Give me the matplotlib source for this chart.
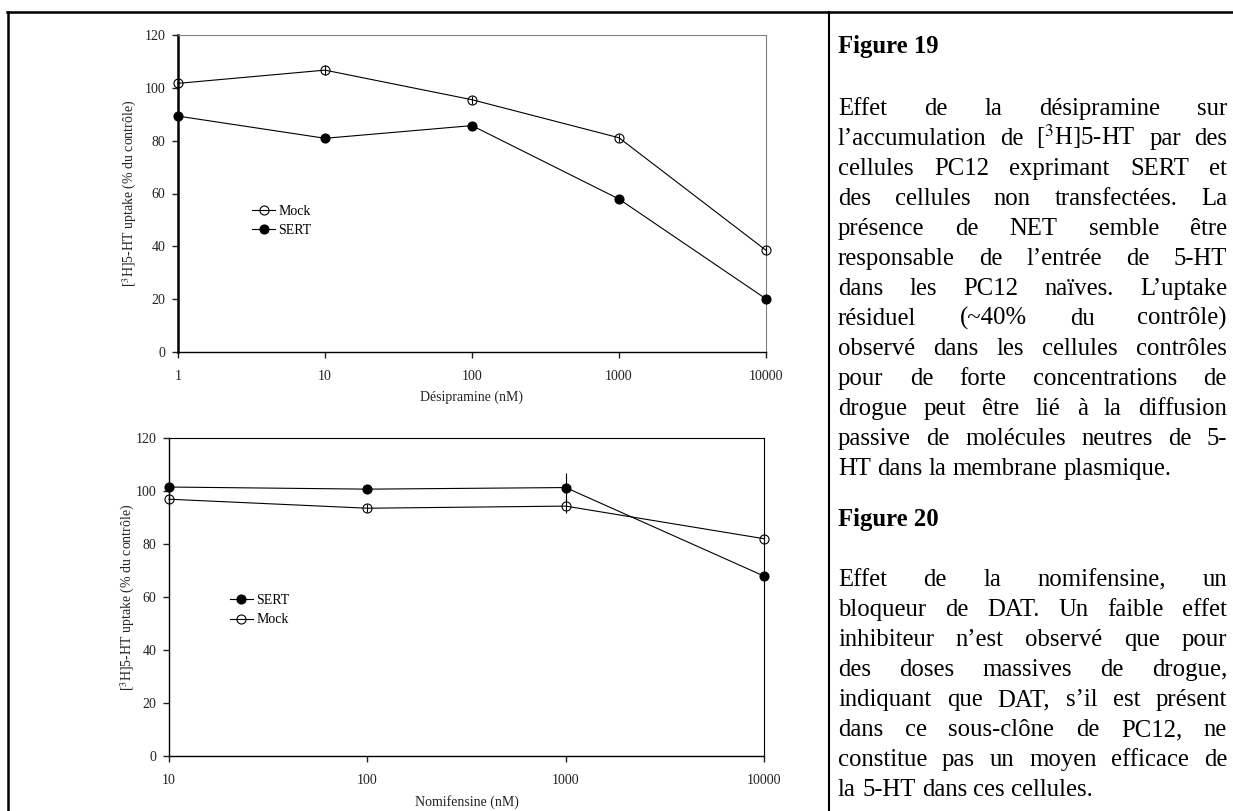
import matplotlib
matplotlib.use('Agg')
import matplotlib.pyplot as plt
from matplotlib.lines import Line2D
from matplotlib.ticker import NullLocator
from matplotlib.transforms import IdentityTransform

plt.rcParams['font.family'] = ['Liberation Serif', 'DejaVu Serif']
plt.rcParams['mathtext.fontset'] = 'stix'

# Figure 19 - désipramine
desip_nm = [1, 10, 100, 1000, 10000]
desip_mock = [101.7, 106.7, 95.5, 81.1, 38.5]
desip_mock_err = [1.5, 2.0, 1.5, 1.5, 1.5]
desip_sert = [89.3, 80.9, 85.7, 57.9, 20.1]
desip_sert_err = [1.0, 1.0, 1.0, 1.0, 1.0]

# Figure 20 - nomifensine
nomif_nm = [10, 100, 1000, 10000]
nomif_sert = [101.5, 100.7, 101.3, 67.9]
nomif_sert_err = [1.0, 1.0, 5.5, 1.0]
nomif_mock = [96.9, 93.5, 94.3, 82.0]
nomif_mock_err = [1.5, 1.5, 2.5, 1.5]

yticks = [0, 20, 40, 60, 80, 100, 120]
ylab = r'[$^{3}$H]5-HT uptake (% du contrôle)'

fig19_title = 'Figure 19'
fig19_text = [
    'Effet de la désipramine sur',
    'l’accumulation de [$^{3}$H]5-HT par des',
    'cellules PC12 exprimant SERT et',
    'des cellules non transfectées. La',
    'présence de NET semble être',
    'responsable de l’entrée de 5-HT',
    'dans les PC12 naïves. L’uptake',
    'résiduel (~40% du contrôle)',
    'observé dans les cellules contrôles',
    'pour de forte concentrations de',
    'drogue peut être lié à la diffusion',
    'passive de molécules neutres de 5-',
    'HT dans la membrane plasmique.',
]
fig20_title = 'Figure 20'
fig20_text = [
    'Effet de la nomifensine, un',
    'bloqueur de DAT. Un faible effet',
    'inhibiteur n’est observé que pour',
    'des doses massives de drogue,',
    'indiquant que DAT, s’il est présent',
    'dans ce sous-clône de PC12, ne',
    'constitue pas un moyen efficace de',
    'la 5-HT dans ces cellules.',
]

W, H = 1233, 811
fig = plt.figure(figsize=(W / 100, H / 100), dpi=100)


def add_axes_px(left, top, right, bottom):
    return fig.add_axes([left / W, 1 - bottom / H, (right - left) / W, (bottom - top) / H])


def setup(ax, xs, xlabel, xlab_y, ylab_x):
    ax.set_xscale('log')
    ax.set_xlim(xs[0], xs[-1])
    ax.set_ylim(0, 120)
    ax.set_xticks(xs)
    ax.set_xticklabels([str(v) for v in xs])
    ax.xaxis.set_minor_locator(NullLocator())
    ax.set_yticks(yticks)
    ax.set_yticklabels([str(v) for v in yticks])
    ax.tick_params(direction='out', length=4, width=1, labelsize=10, colors='#222222')
    ax.tick_params(axis='x', pad=9)
    ax.tick_params(axis='y', pad=5)
    ax.set_xlabel(xlabel, fontsize=10, color='#222222')
    ax.xaxis.set_label_coords(0.5, xlab_y)
    ax.xaxis.label.set_va('center')
    ax.set_ylabel(ylab, fontsize=10, color='#222222')
    ax.yaxis.set_label_coords(ylab_x, 0.5)
    ax.yaxis.label.set_va('center')


def series(ax, x, y, err, filled, label):
    ax.errorbar(x, y, yerr=err, fmt='none', ecolor='k', elinewidth=0.8, capsize=0, clip_on=False, zorder=3)
    line, = ax.plot(x, y, color='k', lw=0.8, marker='o', ms=6.5,
                    mfc='k' if filled else 'none', mec='k', mew=0.8,
                    label=label, clip_on=False, zorder=4)
    return line


# top chart
ax1 = add_axes_px(178, 35, 766, 352)
setup(ax1, desip_nm, 'Désipramine (nM)', -0.142, -0.0816)
h_mock = series(ax1, desip_nm, desip_mock, desip_mock_err, False, 'Mock')
h_sert = series(ax1, desip_nm, desip_sert, desip_sert_err, True, 'SERT')
ax1.spines['left'].set_linewidth(1.8)
ax1.spines['bottom'].set_linewidth(1.0)
for s in ['top', 'right']:
    ax1.spines[s].set_linewidth(0.8)
    ax1.spines[s].set_color('#808080')
ax1.legend(handles=[h_mock, h_sert], loc='upper left', bbox_to_anchor=(0.126, 0.464),
           frameon=False, fontsize=10, handlelength=1.65, handletextpad=0.25,
           labelspacing=0.45, borderpad=0, borderaxespad=0)

# bottom chart
ax2 = add_axes_px(169, 438, 764, 756)
setup(ax2, nomif_nm, 'Nomifensine (nM)', -0.145, -0.0689)
h_sert2 = series(ax2, nomif_nm, nomif_sert, nomif_sert_err, True, 'SERT')
h_mock2 = series(ax2, nomif_nm, nomif_mock, nomif_mock_err, False, 'Mock')
for s in ['left', 'bottom']:
    ax2.spines[s].set_linewidth(1.0)
for s in ['top', 'right']:
    ax2.spines[s].set_linewidth(0.8)
ax2.legend(handles=[h_sert2, h_mock2], loc='upper left', bbox_to_anchor=(0.1025, 0.509),
           frameon=False, fontsize=10, handlelength=1.65, handletextpad=0.25,
           labelspacing=0.45, borderpad=0, borderaxespad=0)

# table borders
fig.add_artist(Line2D([7 / W, 1], [1 - 12 / H, 1 - 12 / H], transform=fig.transFigure, color='k', lw=1.8))
fig.add_artist(Line2D([7.5 / W, 7.5 / W], [0, 1 - 12 / H], transform=fig.transFigure, color='k', lw=1.8))
fig.add_artist(Line2D([829 / W, 829 / W], [0, 1 - 12 / H], transform=fig.transFigure, color='k', lw=1.5))

# caption column, justified
renderer = fig.canvas.get_renderer()
X0, X1 = 838, 1227


def word_widths(words, size):
    out = []
    for w in words:
        t = fig.text(0, 0, w, transform=IdentityTransform(), fontsize=size)
        out.append(t.get_window_extent(renderer).width)
        t.remove()
    return out


# size at which the tightest line just fills the column, a little smaller
probe = 16.0
natural = []
for line in fig19_text + fig20_text:
    words = line.split(' ')
    natural.append(sum(word_widths(words, probe)) + 0.25 * probe * 100 / 72 * (len(words) - 1))
SIZE = 0.93 * probe * (X1 - X0) / max(natural)


def paragraph(lines, y0, step):
    for i, line in enumerate(lines):
        y = H - (y0 + i * step)
        words = line.split(' ')
        texts = [fig.text(0, y, w, transform=IdentityTransform(), fontsize=SIZE, va='baseline')
                 for w in words]
        widths = [t.get_window_extent(renderer).width for t in texts]
        if i == len(lines) - 1 or len(words) == 1:
            gap = 0.25 * SIZE * 100 / 72
        else:
            gap = (X1 - X0 - sum(widths)) / (len(words) - 1)
        x = X0
        for t, w in zip(texts, widths):
            t.set_x(x)
            x += w + gap


fig.text(X0, H - 53, fig19_title, transform=IdentityTransform(), fontsize=SIZE,
         fontweight='bold', va='baseline')
paragraph(fig19_text, 115, 30.0)
fig.text(X0, H - 526, fig20_title, transform=IdentityTransform(), fontsize=SIZE,
         fontweight='bold', va='baseline')
paragraph(fig20_text, 586, 30.0)

fig.savefig('out.png', dpi=100)
